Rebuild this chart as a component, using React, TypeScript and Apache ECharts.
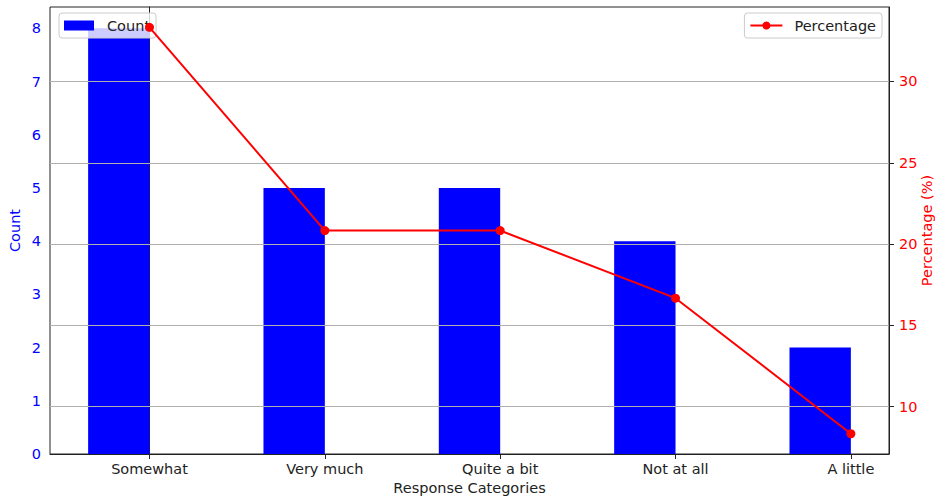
import React, { useEffect, useRef } from "react";
import * as echarts from "echarts";

const categories = ["Somewhat", "Very much", "Quite a bit", "Not at all", "A little"];
const counts = [8, 5, 5, 4, 2];
const percentages = [33.33, 20.83, 20.83, 16.67, 8.33];
const countTicks = [0, 1, 2, 3, 4, 5, 6, 7, 8];
const percentTicks = [10, 15, 20, 25, 30];
const categoryPositions = [0, 1, 2, 3, 4];

const FONT = "DejaVu Sans";
const FS = 14.5;

export default function App() {
  const ref = useRef<HTMLDivElement>(null);
  useEffect(() => {
    document.body.style.margin = "0";
    const chart = echarts.init(ref.current!, null, { renderer: "svg" });
    const barWidth = 0.35;
    const option: any = {
      animation: false,
      textStyle: { fontFamily: FONT, fontSize: FS },
      grid: {
        left: 50,
        top: 7,
        right: 46,
        bottom: 43,
        containLabel: false,
        outerBoundsMode: "none",
        show: true,
        borderColor: "#222",
        borderWidth: 1,
        backgroundColor: "transparent",
      },
      legend: [
        {
          data: [{ name: "Count", icon: "rect" }],
          left: 59,
          top: 13,
          itemWidth: 30,
          itemHeight: 10,
          padding: [5, 6, 5, 5],
          backgroundColor: "rgba(255,255,255,0.8)",
          borderColor: "#cccccc",
          borderWidth: 1,
          borderRadius: 3,
          selectedMode: false,
          textStyle: { fontFamily: FONT, fontSize: FS, color: "#222", padding: [0, 0, 0, 8] },
        },
        {
          data: ["Percentage"],
          right: 53,
          top: 13,
          itemWidth: 32,
          itemHeight: 10,
          padding: [5, 6, 5, 5],
          backgroundColor: "rgba(255,255,255,0.8)",
          borderColor: "#cccccc",
          borderWidth: 1,
          borderRadius: 3,
          selectedMode: false,
          textStyle: { fontFamily: FONT, fontSize: FS, color: "#222", padding: [0, 0, 0, 7] },
        },
      ],
      xAxis: {
        type: "value",
        min: -0.5675,
        max: 4.2175,
        name: "Response Categories",
        nameLocation: "middle",
        nameGap: 26,
        nameMoveOverlap: false,
        nameTextStyle: { fontFamily: FONT, fontSize: FS, color: "#222" },
        axisLine: { show: true, onZero: false, lineStyle: { color: "#222", width: 1 } },
        axisTick: { show: true, length: 5, customValues: categoryPositions, lineStyle: { color: "#222" } },
        axisLabel: {
          customValues: categoryPositions,
          margin: 7,
          color: "#222",
          fontFamily: FONT,
          fontSize: FS,
          formatter: (v: number) => categories[Math.round(v)] ?? "",
        },
        splitLine: { show: false },
      },
      yAxis: [
        {
          type: "value",
          min: 0,
          max: 8.4,
          interval: 1,
          position: "left",
          name: "Count",
          nameLocation: "middle",
          nameGap: 28,
          nameMoveOverlap: false,
          nameTextStyle: { fontFamily: FONT, fontSize: FS, color: "#0000ff" },
          axisLine: { show: true, lineStyle: { color: "#222", width: 1 } },
          axisTick: { show: true, length: 5, customValues: countTicks, lineStyle: { color: "#222" } },
          axisLabel: { customValues: countTicks, margin: 9, color: "#0000ff", fontFamily: FONT, fontSize: FS },
          splitLine: { show: false },
        },
        {
          type: "value",
          min: 7.0833,
          max: 34.5833,
          position: "right",
          name: "Percentage (%)",
          nameLocation: "middle",
          nameGap: 30,
          nameMoveOverlap: false,
          nameTextStyle: { fontFamily: FONT, fontSize: FS, color: "#ff0000" },
          axisLine: { show: true, lineStyle: { color: "#222", width: 1 } },
          axisTick: { show: true, length: 5, customValues: percentTicks, lineStyle: { color: "#222" } },
          axisLabel: { customValues: percentTicks, margin: 10, color: "#ff0000", fontFamily: FONT, fontSize: FS },
          splitLine: { show: false },
        },
      ],
      series: [
        {
          name: "grid",
          type: "line",
          yAxisIndex: 1,
          z: 1,
          silent: true,
          showSymbol: false,
          lineStyle: { opacity: 0 },
          data: categoryPositions.map((x, i) => [x, percentages[i]]),
          markLine: {
            silent: true,
            symbol: "none",
            label: { show: false },
            lineStyle: { color: "#b0b0b0", width: 1, type: "solid" },
            data: percentTicks.map((v) => ({ yAxis: v })),
          },
        },
        {
          name: "Count",
          type: "custom",
          yAxisIndex: 0,
          z: 2,
          itemStyle: { color: "#0000ff" },
          data: categoryPositions.map((x, i) => [x, counts[i]]),
          encode: { x: 0, y: 1 },
          renderItem: (params: any, api: any) => {
            const x = api.value(0);
            const y = api.value(1);
            const p0 = api.coord([x - barWidth, y]);
            const p1 = api.coord([x, 0]);
            return {
              type: "rect",
              shape: { x: p0[0], y: p0[1], width: p1[0] - p0[0], height: p1[1] - p0[1] },
              style: { fill: "#0000ff" },
            };
          },
        },
        {
          name: "Percentage",
          type: "line",
          yAxisIndex: 1,
          z: 5,
          color: "#ff0000",
          symbol: "circle",
          symbolSize: 9,
          lineStyle: { color: "#ff0000", width: 2 },
          itemStyle: { color: "#ff0000" },
          data: categoryPositions.map((x, i) => [x, percentages[i]]),
        },
      ],
    };
    chart.setOption(option);
    return () => chart.dispose();
  }, []);
  return <div ref={ref} style={{ width: 935, height: 497 }} />;
}
